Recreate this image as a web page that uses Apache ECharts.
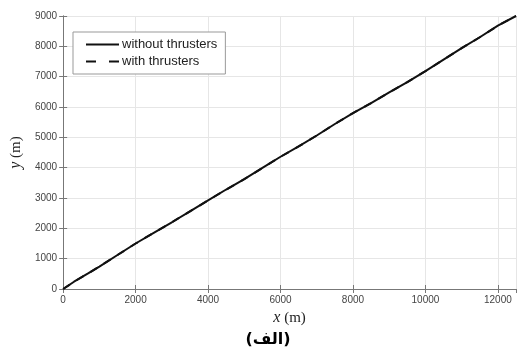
<!DOCTYPE html>
<html>
<head>
<meta charset="utf-8">
<script src="https://cdn.jsdelivr.net/npm/echarts@6/dist/echarts.min.js"></script>
<style>
  html, body { margin: 0; padding: 0; background: #fff; }
  #main { width: 517px; height: 354px; }
</style>
</head>
<body>
<div id="main"></div>
<script>
// x 坐标 (m)
const xValues = [0, 300, 700, 1000, 1500, 2000, 2500, 3000, 3500, 4000, 4500, 5000, 5500, 6000, 6500, 7000, 7500, 8000, 8500, 9000, 9500, 10000, 10500, 11000, 11500, 12000, 12500]
// y 坐标 (m)
const yWithout = [0, 240, 520, 740, 1120, 1500, 1850, 2200, 2560, 2920, 3280, 3620, 3990, 4360, 4700, 5060, 5440, 5800, 6130, 6480, 6820, 7180, 7560, 7940, 8300, 8680, 9000]
const yWith = [0, 240, 520, 740, 1120, 1500, 1850, 2200, 2560, 2920, 3280, 3620, 3990, 4360, 4700, 5060, 5440, 5800, 6130, 6480, 6820, 7180, 7560, 7940, 8300, 8680, 9000]
// 图例名称
const seriesNames = ['without thrusters', 'with thrusters']

const myChart = echarts.init(document.querySelector('#main'))

const axisColor = '#777'
const labelFont = 'Liberation Sans'
// 刻度标签不要千分位逗号
const plain = v => String(v)

option = {
  animation: false,
  backgroundColor: '#fff',
  grid: { left: 61, right: 1, top: 16, bottom: 65 },
  legend: {
    orient: 'vertical',
    left: 73,
    top: 32,
    padding: [6, 8, 6, 12],
    itemGap: 4,
    itemWidth: 33,
    itemHeight: 13,
    backgroundColor: '#fff',
    borderColor: '#999',
    borderWidth: 1,
    // 隐藏图例里的圆点，只留线
    itemStyle: { opacity: 0 },
    textStyle: { fontFamily: labelFont, fontSize: 13, color: '#222', padding: [0, 0, 0, -2] },
    data: [
      { name: seriesNames[0] },
      // 图例中虚线只画两段
      { name: seriesNames[1], lineStyle: { type: [10, 13] } }
    ]
  },
  xAxis: [
    {
      type: 'value',
      min: 0,
      max: 12500,
      interval: 2000,
      name: '{i|x} (m)',
      nameLocation: 'middle',
      nameGap: 21,
      nameTextStyle: {
        fontFamily: 'Liberation Serif', fontSize: 15, color: '#222',
        rich: { i: { fontFamily: 'Liberation Serif', fontStyle: 'italic', fontSize: 16, color: '#222' } }
      },
      axisLine: { lineStyle: { color: axisColor } },
      axisTick: { inside: true, length: 4, lineStyle: { color: axisColor } },
      axisLabel: { showMaxLabel: false, formatter: plain, fontFamily: labelFont, fontSize: 10, color: '#444', margin: 6 },
      splitLine: { show: true, lineStyle: { color: '#e6e6e6' } }
    },
    {
      type: 'value',
      position: 'top',
      min: 0,
      max: 12500,
      interval: 2000,
      axisLine: { lineStyle: { color: axisColor } },
      axisTick: { inside: true, length: 4, lineStyle: { color: axisColor } },
      axisLabel: { show: false },
      splitLine: { show: false }
    }
  ],
  yAxis: [
    {
      type: 'value',
      min: 0,
      max: 9000,
      interval: 1000,
      name: '{i|y} (m)',
      nameLocation: 'middle',
      nameGap: 38,
      nameTextStyle: {
        fontFamily: 'Liberation Serif', fontSize: 15, color: '#222',
        rich: { i: { fontFamily: 'Liberation Serif', fontStyle: 'italic', fontSize: 16, color: '#222' } }
      },
      axisLine: { show: true, lineStyle: { color: axisColor } },
      axisTick: { show: true, inside: true, length: 4, lineStyle: { color: axisColor } },
      axisLabel: { formatter: plain, fontFamily: labelFont, fontSize: 10, color: '#444', margin: 6 },
      splitLine: { show: true, lineStyle: { color: '#e6e6e6' } }
    },
    {
      type: 'value',
      position: 'right',
      min: 0,
      max: 9000,
      interval: 1000,
      axisLine: { show: true, lineStyle: { color: axisColor } },
      axisTick: { show: true, inside: true, length: 4, lineStyle: { color: axisColor } },
      axisLabel: { show: false },
      splitLine: { show: false }
    }
  ],
  series: [
    {
      name: seriesNames[0],
      type: 'line',
      symbol: 'none',
      data: xValues.map((x, i) => [x, yWithout[i]]),
      lineStyle: { color: '#111', width: 2 },
      itemStyle: { color: '#111' }
    },
    {
      name: seriesNames[1],
      type: 'line',
      symbol: 'none',
      data: xValues.map((x, i) => [x, yWith[i]]),
      lineStyle: { color: '#111', width: 2, type: [8, 8] },
      itemStyle: { color: '#111' }
    }
  ],
  graphic: [
    {
      type: 'text',
      x: 268,
      y: 340,
      style: {
        text: '(الف)',
        fontFamily: 'DejaVu Sans',
        fontWeight: 'bold',
        fontSize: 16,
        fill: '#000',
        align: 'center',
        verticalAlign: 'middle'
      }
    }
  ]
}

myChart.setOption(option)
</script>
</body>
</html>
